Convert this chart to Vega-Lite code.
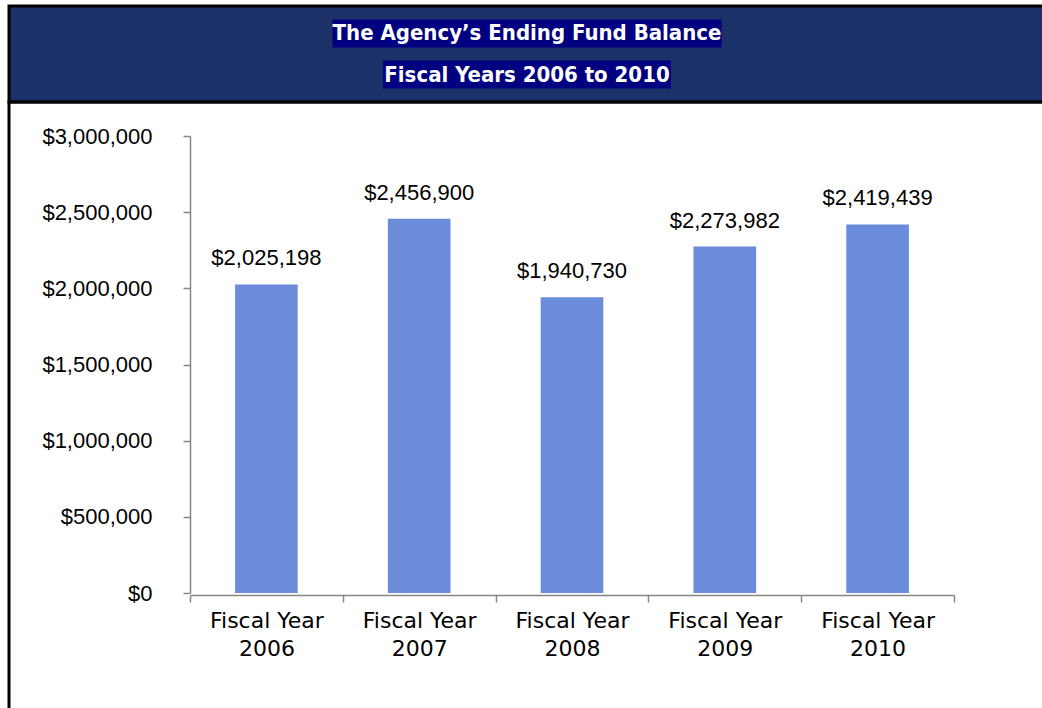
{
  "$schema": "https://vega.github.io/schema/vega-lite/v6.json",
  "background": "white",
  "padding": {"left": 7, "top": 4, "right": 0, "bottom": 0},
  "spacing": 0,
  "bounds": "flush",
  "config": {"view": {"stroke": null}, "concat": {"spacing": 0}},
  "datasets": {
    "titles": [
      {"line": "1", "text": "The Agency’s Ending Fund Balance"},
      {"line": "2", "text": "Fiscal Years 2006 to 2010"}
    ],
    "funds": [
      {"year": "Fiscal Year 2006", "value": 2025198},
      {"year": "Fiscal Year 2007", "value": 2456900},
      {"year": "Fiscal Year 2008", "value": 1940730},
      {"year": "Fiscal Year 2009", "value": 2273982},
      {"year": "Fiscal Year 2010", "value": 2419439}
    ]
  },
  "vconcat": [
    {
      "width": 1036,
      "height": 96,
      "view": {"fill": "#1C3168", "stroke": "black", "strokeWidth": 3},
      "data": {"name": "titles"},
      "encoding": {
        "x": {"datum": "h", "type": "nominal", "axis": null, "scale": {"paddingInner": 0, "paddingOuter": 0}},
        "y": {"field": "line", "type": "nominal", "axis": null, "scale": {"paddingInner": 0, "paddingOuter": 0.17}}
      },
      "layer": [
        {
          "transform": [{"filter": "datum.line == '1'"}],
          "mark": {"type": "bar", "width": 389, "height": 28, "color": "#000080"}
        },
        {
          "transform": [{"filter": "datum.line == '2'"}],
          "mark": {"type": "bar", "width": 288, "height": 28, "color": "#000080"}
        },
        {
          "mark": {"type": "text", "color": "white", "font": "DejaVu Sans Condensed", "fontWeight": "bold", "fontSize": 22, "baseline": "middle"},
          "encoding": {"text": {"field": "text"}}
        }
      ]
    },
    {
      "width": 1040,
      "height": 612,
      "view": {"stroke": "black", "strokeWidth": 3},
      "data": {"name": "funds"},
      "encoding": {
        "x": {
          "field": "year", "type": "nominal", "sort": null,
          "scale": {"range": [181, 945], "paddingInner": 0, "paddingOuter": 0},
          "axis": {
            "orient": "bottom", "offset": -119, "title": null, "labelAngle": 0,
            "tickBand": "extent",
            "labelExpr": "datum.label ? ['Fiscal Year', slice(datum.label, 12)] : ''",
            "labelFont": "DejaVu Sans", "labelFontSize": 22, "labelColor": "black",
            "labelLineHeight": 28, "labelPadding": 8,
            "tickSize": 7, "tickColor": "#868686", "tickWidth": 1.5,
            "domainColor": "#868686", "domainWidth": 1.5
          }
        },
        "y": {
          "field": "value", "type": "quantitative",
          "scale": {"domain": [0, 3000000], "range": [491, 34], "nice": false},
          "axis": {
            "orient": "left", "offset": -181, "title": null, "grid": false,
            "values": [0, 500000, 1000000, 1500000, 2000000, 2500000, 3000000],
            "format": "$,.0f",
            "labelFont": "Liberation Sans", "labelFontSize": 22, "labelColor": "black",
            "labelPadding": 31,
            "tickSize": 7, "tickColor": "#868686", "tickWidth": 1.5,
            "domainColor": "#868686", "domainWidth": 1.5
          }
        }
      },
      "layer": [
        {"mark": {"type": "bar", "color": "#6A8CDA", "width": {"band": 0.41}}},
        {
          "mark": {"type": "text", "font": "Liberation Sans", "fontSize": 22, "color": "black", "baseline": "alphabetic", "dy": -19},
          "encoding": {"text": {"field": "value", "type": "quantitative", "format": "$,.0f"}}
        }
      ]
    }
  ]
}
